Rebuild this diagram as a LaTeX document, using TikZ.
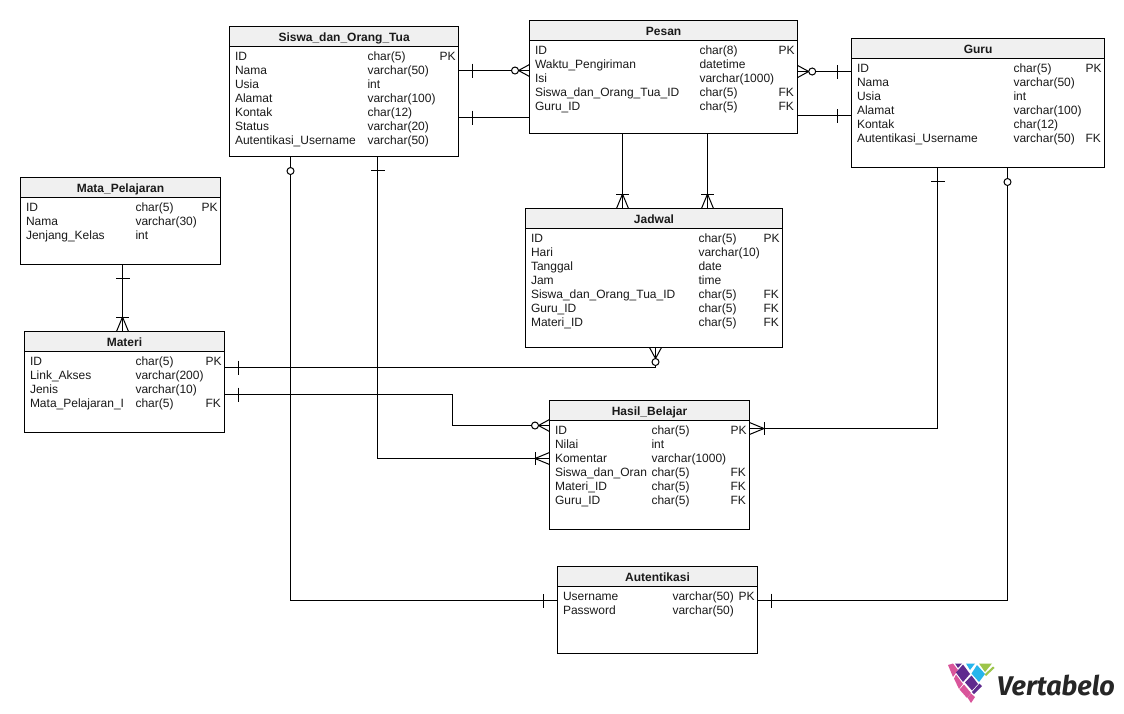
\documentclass[tikz,border=0pt]{standalone}
\usepackage{fontspec}
\setmainfont{Liberation Sans}
\newfontfamily\logofont{Fira Sans}
\usetikzlibrary{calc}
\definecolor{hdr}{HTML}{F0F0F0}
\definecolor{ln}{HTML}{000000}
\definecolor{txt}{HTML}{1A1A1A}
\definecolor{lpink}{HTML}{D9559B}
\definecolor{lpurple}{HTML}{5F2A8E}
\definecolor{lblue}{HTML}{27B5EC}
\definecolor{lgreen}{HTML}{9CC54A}
\tikzset{
  x=1pt,y=-1pt,
  tbl/.style={draw=ln,line width=1.1pt,fill=white,rectangle,inner sep=0pt,outer sep=0pt,anchor=north west},
  tblhead/.style={draw=ln,line width=1.1pt,fill=hdr,rectangle,inner sep=0pt,outer sep=0pt,anchor=north west,font=\fontsize{12}{13}\selectfont\bfseries,text=txt,text height=11pt,text depth=2pt},
  cell/.style={inner sep=0pt,outer sep=0pt,anchor=base west,font=\fontsize{12}{13}\selectfont,text=txt},
  conn/.style={draw=ln,line width=1.1pt},
  mark part/.style={draw=ln,line width=1pt},
  endone/.pic={\draw[mark part] (14,-7)--(14,7);},
  endzero/.pic={\draw[mark part,fill=white] (14.5,0) circle (3.5);},
  endcrow/.pic={\draw[mark part] (0,-6)--(11,0)--(0,6);},
  endmany/.pic={\draw[mark part] (0,-6)--(14.5,0)--(0,6);\draw[mark part] (14.5,-6.5)--(14.5,6.5);}
}
% #1 name, #2 x, #3 y, #4 w, #5 h, #6 title
\newcommand{\ertable}[6]{%
  \node[tbl,minimum width=#4pt,minimum height=#5pt] (#1) at (#2,#3) {};
  \node[tblhead,minimum width=#4pt,minimum height=20pt] (#1-h) at (#2,#3) {#6};
}
% #1 table, #2 row index, #3 x of type col offset, #4 x of key offset, #5 name, #6 type, #7 key
\newcommand{\errow}[7]{%
  \node[cell] (#1-#2-n) at ($(#1.north west)+(5.5,{34+14*(#2-1)})$) {#5};
  \node[cell] (#1-#2-t) at ($(#1.north west)+(#3,{34+14*(#2-1)})$) {#6};
  \node[cell] (#1-#2-k) at ($(#1.north west)+(#4,{34+14*(#2-1)})$) {#7};
}
\begin{document}
\begin{tikzpicture}
\useasboundingbox (0,0) rectangle (1124,713);
\fill[white] (0,0) rectangle (1124,713);

\ertable{siswa}{229.5}{26.5}{229.2}{130}{Siswa\_dan\_Orang\_Tua}
\errow{siswa}{1}{138}{210}{ID}{char(5)}{PK}
\errow{siswa}{2}{138}{210}{Nama}{varchar(50)}{}
\errow{siswa}{3}{138}{210}{Usia}{int}{}
\errow{siswa}{4}{138}{210}{Alamat}{varchar(100)}{}
\errow{siswa}{5}{138}{210}{Kontak}{char(12)}{}
\errow{siswa}{6}{138}{210}{Status}{varchar(20)}{}
\errow{siswa}{7}{138}{210}{Autentikasi\_Username}{varchar(50)}{}

\ertable{pesan}{529.5}{20.5}{268.2}{113}{Pesan}
\errow{pesan}{1}{170}{249}{ID}{char(8)}{PK}
\errow{pesan}{2}{170}{249}{Waktu\_Pengiriman}{datetime}{}
\errow{pesan}{3}{170}{249}{Isi}{varchar(1000)}{}
\errow{pesan}{4}{170}{249}{Siswa\_dan\_Orang\_Tua\_ID}{char(5)}{FK}
\errow{pesan}{5}{170}{249}{Guru\_ID}{char(5)}{FK}

\ertable{guru}{851.5}{38.5}{253.2}{129}{Guru}
\errow{guru}{1}{162}{234}{ID}{char(5)}{PK}
\errow{guru}{2}{162}{234}{Nama}{varchar(50)}{}
\errow{guru}{3}{162}{234}{Usia}{int}{}
\errow{guru}{4}{162}{234}{Alamat}{varchar(100)}{}
\errow{guru}{5}{162}{234}{Kontak}{char(12)}{}
\errow{guru}{6}{162}{234}{Autentikasi\_Username}{varchar(50)}{FK}

\ertable{jadwal}{525.5}{208.5}{257}{139}{Jadwal}
\errow{jadwal}{1}{173}{238}{ID}{char(5)}{PK}
\errow{jadwal}{2}{173}{238}{Hari}{varchar(10)}{}
\errow{jadwal}{3}{173}{238}{Tanggal}{date}{}
\errow{jadwal}{4}{173}{238}{Jam}{time}{}
\errow{jadwal}{5}{173}{238}{Siswa\_dan\_Orang\_Tua\_ID}{char(5)}{FK}
\errow{jadwal}{6}{173}{238}{Guru\_ID}{char(5)}{FK}
\errow{jadwal}{7}{173}{238}{Materi\_ID}{char(5)}{FK}

\ertable{mata}{20.5}{177.5}{200}{87}{Mata\_Pelajaran}
\errow{mata}{1}{115}{181}{ID}{char(5)}{PK}
\errow{mata}{2}{115}{181}{Nama}{varchar(30)}{}
\errow{mata}{3}{115}{181}{Jenjang\_Kelas}{int}{}

\ertable{materi}{24.5}{331.5}{200}{101}{Materi}
\errow{materi}{1}{111}{181}{ID}{char(5)}{PK}
\errow{materi}{2}{111}{181}{Link\_Akses}{varchar(200)}{}
\errow{materi}{3}{111}{181}{Jenis}{varchar(10)}{}
\errow{materi}{4}{111}{181}{Mata\_Pelajaran\_I}{char(5)}{FK}

\ertable{hasil}{549.5}{400.5}{200}{129}{Hasil\_Belajar}
\errow{hasil}{1}{102}{181}{ID}{char(5)}{PK}
\errow{hasil}{2}{102}{181}{Nilai}{int}{}
\errow{hasil}{3}{102}{181}{Komentar}{varchar(1000)}{}
\errow{hasil}{4}{102}{181}{Siswa\_dan\_Oran}{char(5)}{FK}
\errow{hasil}{5}{102}{181}{Materi\_ID}{char(5)}{FK}
\errow{hasil}{6}{102}{181}{Guru\_ID}{char(5)}{FK}

\ertable{auten}{557.5}{566.5}{200}{87}{Autentikasi}
\errow{auten}{1}{115}{181}{Username}{varchar(50)}{PK}
\errow{auten}{2}{115}{181}{Password}{varchar(50)}{}

% named attachment points
\coordinate (s-e1) at ($(siswa.north east)+(0,44)$);
\coordinate (s-e2) at ($(siswa.north east)+(0,91)$);
\coordinate (s-s1) at ($(siswa.south west)+(61,0)$);
\coordinate (s-s2) at ($(siswa.south west)+(148,0)$);
\coordinate (p-w1) at ($(pesan.north west)+(0,50)$);
\coordinate (p-w2) at ($(pesan.north west)+(0,97)$);
\coordinate (p-e1) at ($(pesan.north east)+(0,51)$);
\coordinate (p-e2) at ($(pesan.north east)+(0,95)$);
\coordinate (p-s1) at ($(pesan.south west)+(93,0)$);
\coordinate (p-s2) at ($(pesan.south west)+(178,0)$);
\coordinate (g-w1) at ($(guru.north west)+(0,33)$);
\coordinate (g-w2) at ($(guru.north west)+(0,77)$);
\coordinate (g-s1) at ($(guru.south west)+(86,0)$);
\coordinate (g-s2) at ($(guru.south west)+(156,0)$);
\coordinate (j-n1) at ($(jadwal.north west)+(97,0)$);
\coordinate (j-n2) at ($(jadwal.north west)+(182,0)$);
\coordinate (j-s1) at ($(jadwal.south west)+(130,0)$);
\coordinate (mp-s) at ($(mata.south west)+(102,0)$);
\coordinate (m-n) at ($(materi.north west)+(98,0)$);
\coordinate (m-e1) at ($(materi.north east)+(0,36)$);
\coordinate (m-e2) at ($(materi.north east)+(0,63)$);
\coordinate (h-w1) at ($(hasil.north west)+(0,25)$);
\coordinate (h-w2) at ($(hasil.north west)+(0,58)$);
\coordinate (h-e1) at ($(hasil.north east)+(0,28)$);
\coordinate (a-w) at ($(auten.north west)+(0,34)$);
\coordinate (a-e) at ($(auten.north east)+(0,34)$);

% connectors
\draw[conn] (s-e1) -- (p-w1);
\draw[conn] (s-e2) -- (p-w2);
\draw[conn] (p-e1) -- (g-w1);
\draw[conn] (p-e2) -- (g-w2);
\draw[conn] (p-s1) -- (j-n1);
\draw[conn] (p-s2) -- (j-n2);
\draw[conn] (mp-s) -- (m-n);
\draw[conn] (s-s1) |- (a-w);
\draw[conn] (s-s2) |- (h-w2);
\draw[conn] (m-e1) -| (j-s1);
\draw[conn] (m-e2) -- ++(228.3,0) |- (h-w1);
\draw[conn] (g-s1) |- (h-e1);
\draw[conn] (g-s2) |- (a-e);

% end marks: local x axis points away from the table
\path (s-e1) pic {endone};
\path (p-w1) pic[rotate=180] {endcrow} pic[rotate=180] {endzero};
\path (s-e2) pic {endone};
\path (p-e1) pic {endcrow} pic {endzero};
\path (g-w1) pic[rotate=180] {endone};
\path (g-w2) pic[rotate=180] {endone};
\path (j-n1) pic[rotate=90] {endmany};
\path (j-n2) pic[rotate=90] {endmany};
\path (mp-s) pic[rotate=-90] {endone};
\path (m-n) pic[rotate=90] {endmany};
\path (s-s1) pic[rotate=-90] {endzero};
\path (s-s2) pic[rotate=-90] {endone};
\path (a-w) pic[rotate=180] {endone};
\path (h-w2) pic[rotate=180] {endmany};
\path (m-e1) pic {endone};
\path (j-s1) pic[rotate=-90] {endcrow} pic[rotate=-90] {endzero};
\path (m-e2) pic {endone};
\path (h-w1) pic[rotate=180] {endcrow} pic[rotate=180] {endzero};
\path (g-s1) pic[rotate=-90] {endone};
\path (h-e1) pic {endmany};
\path (g-s2) pic[rotate=-90] {endzero};
\path (a-e) pic {endone};

% logo
\fill[lpink] (948,665)--(953,663.5)--(958,670)--(953,677)--cycle;
\fill[lpurple] (955,663.5)--(962,663.5)--(958,668)--cycle;
\fill[lpurple] (963,664.5)--(970,674)--(963,682)--(956,672.5)--cycle;
\fill[lblue] (966,663.5)--(975,663.5)--(970,670)--cycle;
\fill[lpink] (954,678.5)--(956,674.5)--(963,684)--(959,689)--cycle;
\fill[lpurple] (971.5,675.5)--(978,684)--(972,690.5)--(965,682.5)--cycle;
\fill[lblue] (977,665)--(985,674)--(979,682)--(971.5,673.5)--cycle;
\fill[lgreen] (979,663.5)--(992,663.5)--(985,672)--cycle;
\fill[lgreen] (993,666.5)--(994.5,668)--(986,676)--(984.5,674.5)--cycle;
\fill[lpink] (964,684.5)--(971,693)--(967,698)--(959.5,689.5)--cycle;
\fill[lpurple] (979.5,683.5)--(982,686)--(974,694)--(972,692)--cycle;
\fill[lpink] (967.5,697.5)--(971,693.5)--(975,697)--(971,703)--cycle;
\node[inner sep=0pt,anchor=base west,text=black!85,font=\logofont\fontsize{27}{30}\selectfont\bfseries\itshape] (logo) at (997,695) {Vertabelo};
\end{tikzpicture}
\end{document}
